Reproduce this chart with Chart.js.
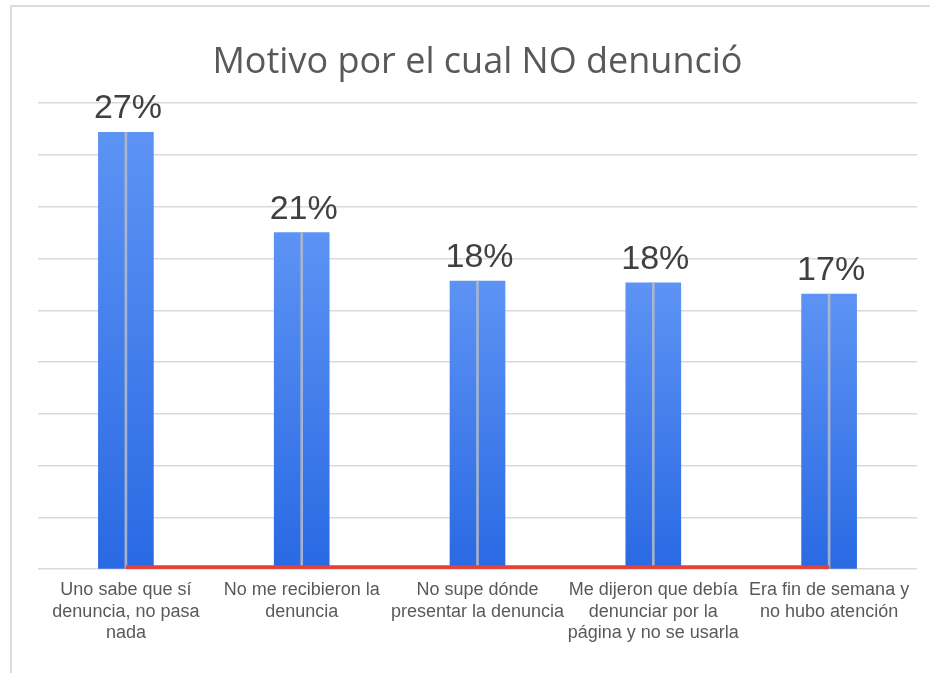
<!DOCTYPE html>
<html>
<head>
<meta charset="utf-8">
<script src="https://cdn.jsdelivr.net/npm/chart.js@4.4.1/dist/chart.umd.min.js"></script>
<style>
    html, body { margin: 0; padding: 0; background: #fff; }
    #wrap { position: relative; width: 930px; height: 673px; }
    #frame { position: absolute; left: 10px; top: 5px; right: 0; bottom: 0; border-left: 2px solid #dcdcdc; border-top: 2px solid #dcdcdc; pointer-events: none; }
    canvas { position: absolute; left: 0; top: 0; }
</style>
</head>
<body>
<div id="wrap">
    <canvas id="motivoChart" width="930" height="673"></canvas>
    <div id="frame"></div>
</div>
<script>
// Chart data
const categories = [
    ['Uno sabe que sí', 'denuncia, no pasa', 'nada'],
    ['No me recibieron la', 'denuncia'],
    ['No supe dónde', 'presentar la denuncia'],
    ['Me dijeron que debía', 'denunciar por la', 'página y no se usarla'],
    ['Era fin de semana y', 'no hubo atención']
];
const percentValues = [27.0, 20.8, 17.8, 17.7, 17.0];
const baseLineValues = [0.12, 0.12, 0.12, 0.12, 0.12];
const yMax = 28.8;
const yStep = 3.2;

// Blue gradient per bar (lighter at top)
const barGradient = (context) => {
    const chart = context.chart;
    const yScale = chart.scales && chart.scales.y;
    if (!chart.chartArea || !yScale || context.raw === undefined) return '#3f7fec';
    const top = yScale.getPixelForValue(context.raw);
    const bottom = yScale.getPixelForValue(0);
    const g = chart.ctx.createLinearGradient(0, top, 0, bottom);
    g.addColorStop(0, '#5d93f4');
    g.addColorStop(1, '#2969e3');
    return g;
};

// Percent labels above the bars
const valueLabels = {
    id: 'valueLabels',
    afterDatasetsDraw(chart) {
        const meta = chart.getDatasetMeta(0);
        const c = chart.ctx;
        c.save();
        c.font = '34px "Liberation Sans", Arial, sans-serif';
        c.fillStyle = '#404040';
        c.textAlign = 'center';
        c.textBaseline = 'alphabetic';
        meta.data.forEach((bar, i) => {
            c.fillText(Math.round(percentValues[i]) + '%', bar.x + 2, bar.y - 14);
        });
        c.restore();
    }
};

new Chart(document.getElementById('motivoChart'), {
    type: 'bar',
    data: {
        labels: categories,
        datasets: [{
            label: 'Motivo',
            data: percentValues,
            backgroundColor: barGradient,
            barThickness: 55,
            grouped: false,
            order: 3
        }, {
            label: 'centro',
            data: percentValues,
            backgroundColor: 'rgba(175,185,205,0.9)',
            barThickness: 2,
            grouped: false,
            order: 2
        }, {
            type: 'line',
            label: 'base',
            data: baseLineValues,
            borderColor: '#e3423a',
            borderWidth: 4,
            pointRadius: 0,
            fill: false,
            order: 1
        }]
    },
    options: {
        responsive: false,
        animation: false,
        layout: { padding: { left: 38, right: 13, top: 0, bottom: 19 } },
        plugins: {
            legend: { display: false },
            tooltip: { enabled: false },
            title: {
                display: true,
                text: 'Motivo por el cual NO denunció',
                color: '#595959',
                font: { family: '"Open Sans", sans-serif', size: 36, weight: 'normal' },
                padding: { top: 41, bottom: 19 }
            }
        },
        scales: {
            y: {
                min: 0,
                max: yMax,
                ticks: { display: false, stepSize: yStep },
                grid: { color: '#d9d9d9', lineWidth: 1.5, drawTicks: false },
                border: { display: false }
            },
            x: {
                grid: { display: false, drawTicks: false },
                border: { display: false },
                ticks: {
                    color: '#595959',
                    padding: 10,
                    maxRotation: 0,
                    autoSkip: false,
                    font: { family: '"Liberation Sans", Arial, sans-serif', size: 18, lineHeight: 1.2 }
                }
            }
        }
    },
    plugins: [valueLabels]
});
</script>
</body>
</html>
